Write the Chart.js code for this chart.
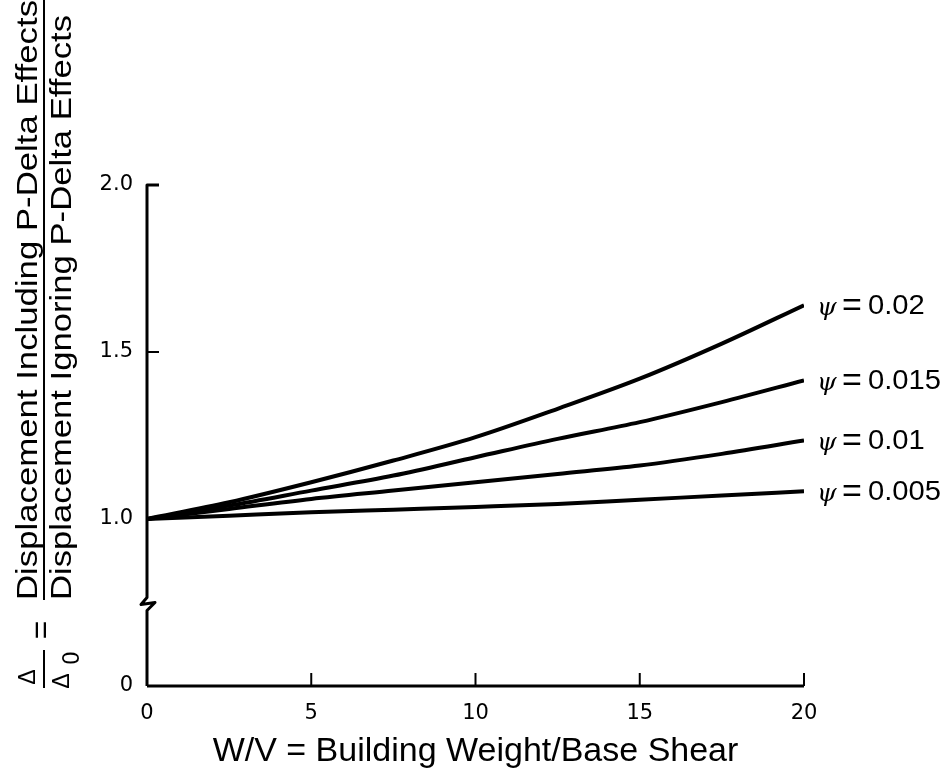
<!DOCTYPE HTML>
<html>
<head>
<script src="https://cdn.jsdelivr.net/npm/chart.js@4.4.1/dist/chart.umd.min.js"></script>
<style>
body { margin: 0; background: #fff; }
</style>
</head>
<body>
<canvas id="myChart" width="948" height="776"></canvas>
<script>
// W/V values
var wv = [0, 2.5, 5, 7.5, 10, 12.5, 15, 17.5, 20];
// displacement ratio for each psi
var psi020 = [1.0, 1.05, 1.11, 1.175, 1.245, 1.33, 1.42, 1.525, 1.64];
var psi015 = [1.0, 1.04, 1.085, 1.13, 1.185, 1.24, 1.29, 1.35, 1.415];
var psi010 = [1.0, 1.03, 1.06, 1.085, 1.11, 1.135, 1.16, 1.195, 1.235];
var psi005 = [1.0, 1.01, 1.02, 1.028, 1.036, 1.045, 1.058, 1.07, 1.083];
var curveLabels = ['0.02', '0.015', '0.01', '0.005'];
var xTicks = [0, 5, 10, 15, 20];
var yTicks = [0.5, 1.0, 1.5, 2.0];   // 0.5 position stands for the broken "0"

function pts(arr) {
	var out = [];
	for (var i = 0; i < wv.length; i++) out.push({x: wv[i], y: arr[i]});
	return out;
}

var font = "'Liberation Sans', Arial, sans-serif";
var tickFont = "'DejaVu Sans', sans-serif";

// text squeezed/stretched to a given width
function fitText(ctx, txt, x, y, width) {
	var w = ctx.measureText(txt).width;
	ctx.save();
	ctx.translate(x, y);
	ctx.scale(width / w, 1);
	ctx.fillText(txt, 0, 0);
	ctx.restore();
}

var drawExtras = {
	id: 'drawExtras',
	afterDraw: function(chart) {
		var ctx = chart.ctx;
		var xs = chart.scales.x, ys = chart.scales.y;
		var x0 = xs.getPixelForValue(0), x20 = xs.getPixelForValue(20);
		var yb = ys.getPixelForValue(0.5), yt = ys.getPixelForValue(2.0);
		ctx.save();
		ctx.strokeStyle = '#000';
		ctx.fillStyle = '#000';
		ctx.lineWidth = 3;
		ctx.lineJoin = 'round';
		// x axis
		ctx.beginPath();
		ctx.moveTo(x0, yb);
		ctx.lineTo(x20, yb);
		ctx.stroke();
		// y axis with break
		var brk = (ys.getPixelForValue(0.5) + ys.getPixelForValue(1.0)) / 2 + 3;
		ctx.beginPath();
		ctx.moveTo(x0 + 12, yt);
		ctx.lineTo(x0, yt);
		ctx.lineTo(x0, brk - 8);
		ctx.lineTo(x0 - 6, brk - 1);
		ctx.lineTo(x0 + 8, brk - 3);
		ctx.lineTo(x0, brk + 5);
		ctx.lineTo(x0, yb);
		ctx.stroke();
		// inward ticks
		ctx.lineWidth = 2;
		[1.5].forEach(function(v) {
			var p = ys.getPixelForValue(v);
			ctx.beginPath(); ctx.moveTo(x0, p); ctx.lineTo(x0 + 12, p); ctx.stroke();
		});
		xTicks.slice(1).forEach(function(v) {
			var p = xs.getPixelForValue(v);
			ctx.beginPath(); ctx.moveTo(p, yb); ctx.lineTo(p, yb - 13); ctx.stroke();
		});

		// x title
		ctx.font = '34px ' + font;
		ctx.textAlign = 'center';
		ctx.textBaseline = 'middle';
		ctx.fillText('W/V = Building Weight/Base Shear', (x0 + x20) / 2, 752);

		// curve labels
		ctx.textBaseline = 'middle';
		chart.data.datasets.forEach(function(ds, i) {
			var meta = chart.getDatasetMeta(i);
			var last = meta.data[meta.data.length - 1];
			var tx = last.x + 13, ty = last.y + 1;
			ctx.textAlign = 'left';
			ctx.font = "italic 25px 'DejaVu Serif', serif";
			ctx.fillText('\u03C8', tx, ty + 2);
			ctx.textAlign = 'center';
			ctx.font = '34px ' + font;
			ctx.fillText('=', tx + 35, ty);
			ctx.textAlign = 'left';
			ctx.font = '27px ' + font;
			var num = curveLabels[i];
			fitText(ctx, num, tx + 51, ty, ctx.measureText(num).width * 1.08);
		});

		// rotated y title
		ctx.translate(44, 600);
		ctx.rotate(-Math.PI / 2);
		ctx.font = '29px ' + font;
		ctx.textAlign = 'left';
		ctx.textBaseline = 'alphabetic';
		fitText(ctx, 'Displacement Including P-Delta Effects', 0, -7, 600);
		fitText(ctx, 'Displacement Ignoring P-Delta Effects', 0, 27, 585);
		ctx.lineWidth = 2;
		ctx.beginPath(); ctx.moveTo(0, 0); ctx.lineTo(604, 0); ctx.stroke();
		// equals sign and delta ratio
		ctx.textAlign = 'center';
		ctx.font = '32px ' + font;
		ctx.textBaseline = 'middle';
		ctx.fillText('=', -30, -2);
		ctx.font = '23px ' + font;
		ctx.textBaseline = 'alphabetic';
		ctx.fillText('\u0394', -77, -9);
		ctx.fillText('\u0394', -81, 25);
		ctx.fillText('0', -58, 35);
		ctx.beginPath(); ctx.moveTo(-88, 0); ctx.lineTo(-50, 0); ctx.stroke();
		ctx.restore();
	}
};

var ctx = document.getElementById('myChart').getContext('2d');
var lineStyle = {
	borderColor: '#000',
	borderWidth: 4,
	pointRadius: 0,
	fill: false,
	cubicInterpolationMode: 'monotone'
};
var myChart = new Chart(ctx, {
	type: 'line',
	data: {
		datasets: [
			Object.assign({label: 'psi = 0.02', data: pts(psi020)}, lineStyle),
			Object.assign({label: 'psi = 0.015', data: pts(psi015)}, lineStyle),
			Object.assign({label: 'psi = 0.01', data: pts(psi010)}, lineStyle),
			Object.assign({label: 'psi = 0.005', data: pts(psi005)}, lineStyle)
		]
	},
	options: {
		responsive: false,
		animation: false,
		layout: { padding: { top: 185, right: 144, left: 0, bottom: 0 } },
		plugins: { legend: { display: false }, tooltip: { enabled: false } },
		scales: {
			x: {
				type: 'linear', min: 0, max: 20,
				afterFit: function(s) { s.height = 90; },
				afterBuildTicks: function(s) { s.ticks = xTicks.map(function(v) { return {value: v}; }); },
				grid: { display: false, drawTicks: false }, border: { display: false },
				ticks: { color: '#000', padding: 15, maxRotation: 0, font: { family: tickFont, size: 21 } }
			},
			y: {
				type: 'linear', min: 0.5, max: 2.0,
				afterFit: function(s) { s.width = 147; },
				afterBuildTicks: function(s) { s.ticks = yTicks.map(function(v) { return {value: v}; }); },
				grid: { display: false, drawTicks: false }, border: { display: false },
				ticks: {
					color: '#000', padding: 14, font: { family: tickFont, size: 21 },
					callback: function(v) { return v === 0.5 ? '0' : v.toFixed(1); }
				}
			}
		}
	},
	plugins: [drawExtras]
});
</script>
</body>
</html>
